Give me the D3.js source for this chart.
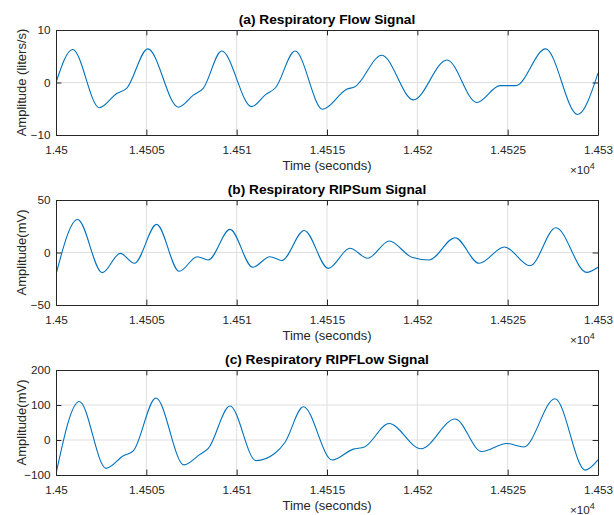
<!DOCTYPE html>
<html>
<head>
<meta charset="utf-8">
<script src="https://cdn.jsdelivr.net/npm/d3@7"></script>
<style>
  body { margin: 0; background: #fff; }
  svg { display: block; font-family: "Liberation Sans", Arial, Helvetica, sans-serif; }
</style>
</head>
<body>
<svg id="chart" width="614" height="515"></svg>
<script>
// Axe du temps (secondes), affiché en x10^4
const xTicks = [14500, 14505, 14510, 14515, 14520, 14525, 14530];
const xTickLabels = ["1.45", "1.4505", "1.451", "1.4515", "1.452", "1.4525", "1.453"];

// (a) Respiratory Flow
const flowTime = [14500.00, 14500.92, 14502.40, 14503.36, 14503.91, 14505.08, 14506.77, 14507.60, 14508.15,
                  14509.17, 14510.83, 14511.60, 14512.15, 14513.23, 14514.76, 14516.09, 14516.55, 14518.03,
                  14519.78, 14521.64, 14523.29, 14524.58, 14525.45, 14527.10, 14528.87, 14530.00];
const flowAmp  = [0.0, 6.3, -4.8, -2.1, -1.1, 6.4, -4.7, -2.4, -1.1,
                  6.0, -4.6, -2.3, -1.0, 6.0, -5.1, -1.3, -0.8, 5.2,
                  -3.3, 4.3, -3.8, -0.6, -0.6, 6.4, -6.1, 1.8];
const flowTicks = [-10, 0, 10];

// (b) Respiratory RIPSum
const sumTime = [14500.00, 14501.20, 14502.56, 14503.56, 14504.34, 14505.57, 14506.82, 14507.82, 14508.43,
                 14509.63, 14510.89, 14511.84, 14512.50, 14513.74, 14515.07, 14516.27, 14517.25, 14518.45,
                 14519.69, 14520.65, 14522.09, 14523.42, 14524.82, 14526.24, 14527.67, 14529.37, 14530.00];
const sumAmp  = [-20.8, 31.4, -19.2, -0.8, -10.3, 26.8, -17.9, -4.0, -7.1,
                 22.0, -14.1, -4.0, -7.6, 21.0, -15.1, 4.0, -5.5, 11.0,
                 -4.5, -7.1, 14.1, -10.3, 5.3, -12.6, 23.6, -18.9, -14.1];
const sumTicks = [-50, 0, 50];

// (c) Respiratory RIPFlow
const ripTime = [14500.00, 14501.29, 14502.77, 14503.73, 14504.28, 14505.53, 14507.08, 14507.97, 14508.43,
                 14509.63, 14511.07, 14512.12, 14512.67, 14513.69, 14515.29, 14516.46, 14517.07, 14518.43,
                 14520.20, 14522.09, 14523.56, 14524.95, 14525.89, 14527.62, 14529.30, 14530.00];
const ripAmp  = [-97, 110, -81, -45, -31, 120, -71, -41, -24,
                 97, -59, -38, -7, 95, -57, -26, -20, 47,
                 -25, 60, -33, -10, -20, 118, -86, -57];
const ripTicks = [-100, 0, 100, 200];

const panels = [
    { title: "(a) Respiratory Flow Signal", ylabel: "Amplitude (liters/s)", time: flowTime, amp: flowAmp, ticks: flowTicks, top: 30 },
    { title: "(b) Respiratory RIPSum Signal", ylabel: "Amplitude(mV)", time: sumTime, amp: sumAmp, ticks: sumTicks, top: 200 },
    { title: "(c) Respiratory RIPFLow Signal", ylabel: "Amplitude(mV)", time: ripTime, amp: ripAmp, ticks: ripTicks, top: 370 }
];

const left = 56, right = 598, plotH = 105, tick = 5.4;
const axisColor = "#262626", gridColor = "#dfdfdf", lineColor = "#0072bd";

const svg = d3.select("#chart");

const x = d3.scaleLinear().domain([14500, 14530]).range([left, right]);

panels.forEach((p, k) => {
    const y = d3.scaleLinear()
        .domain(d3.extent(p.ticks))
        .range([p.top + plotH, p.top]);

    const g = svg.append("g");

    // Grille
    g.append("g").selectAll("line")
        .data(xTicks.slice(1, -1))
        .enter().append("line")
        .attr("x1", d => x(d)).attr("x2", d => x(d))
        .attr("y1", p.top).attr("y2", p.top + plotH)
        .attr("stroke", gridColor);
    g.append("g").selectAll("line")
        .data(p.ticks.slice(1, -1))
        .enter().append("line")
        .attr("x1", left).attr("x2", right)
        .attr("y1", d => y(d)).attr("y2", d => y(d))
        .attr("stroke", gridColor);

    // Courbe
    const pts = p.time.map((t, i) => [t, p.amp[i]]);
    svg.append("clipPath").attr("id", "clip" + k)
        .append("rect").attr("x", left).attr("y", p.top).attr("width", right - left).attr("height", plotH);
    g.append("path")
        .datum(pts)
        .attr("clip-path", `url(#clip${k})`)
        .attr("fill", "none")
        .attr("stroke", lineColor)
        .attr("stroke-width", 1.1)
        .attr("d", d3.line().x(d => x(d[0])).y(d => y(d[1])).curve(d3.curveMonotoneX));

    // Axes (boîte complète, graduations vers l'intérieur)
    const bottomAxis = d3.axisBottom(x).tickValues(xTicks).tickFormat((d, i) => xTickLabels[i])
        .tickSizeInner(-tick).tickSizeOuter(0).tickPadding(10.8);
    const topAxis = d3.axisTop(x).tickValues(xTicks).tickFormat("").tickSizeInner(-tick).tickSizeOuter(0);
    const leftAxis = d3.axisLeft(y).tickValues(p.ticks).tickFormat(d3.format("d"))
        .tickSizeInner(-tick).tickSizeOuter(0).tickPadding(5.5);
    const rightAxis = d3.axisRight(y).tickValues(p.ticks).tickFormat("").tickSizeInner(-tick).tickSizeOuter(0);

    const axes = [
        g.append("g").attr("transform", `translate(0,${p.top + plotH})`).call(bottomAxis),
        g.append("g").attr("transform", `translate(0,${p.top})`).call(topAxis),
        g.append("g").attr("transform", `translate(${left},0)`).call(leftAxis),
        g.append("g").attr("transform", `translate(${right},0)`).call(rightAxis)
    ];
    axes.forEach(a => {
        a.select(".domain").attr("stroke", axisColor).attr("stroke-width", 1);
        a.selectAll(".tick line").attr("stroke", axisColor);
        a.selectAll("text").attr("fill", axisColor).style("font-size", "11.7px").style("font-family", null);
    });

    // Titres et libellés
    g.append("text")
        .attr("x", (left + right) / 2).attr("y", p.top - 6)
        .attr("text-anchor", "middle")
        .style("font-size", "13.7px").style("font-weight", "bold")
        .attr("fill", "#000")
        .text(p.title);

    g.append("text")
        .attr("x", (left + right) / 2).attr("y", p.top + plotH + 35)
        .attr("text-anchor", "middle")
        .style("font-size", "13px")
        .attr("fill", axisColor)
        .text("Time (seconds)");

    g.append("text")
        .attr("transform", `translate(26,${p.top + plotH / 2}) rotate(-90)`)
        .attr("text-anchor", "middle")
        .style("font-size", "13px")
        .attr("fill", axisColor)
        .text(p.ylabel);

    const mult = g.append("text")
        .attr("x", 570).attr("y", p.top + plotH + 38.5)
        .style("font-size", "11.7px")
        .attr("fill", axisColor);
    mult.append("tspan").text("\u00d710");
    mult.append("tspan").attr("dy", -5).style("font-size", "9px").text("4");
});
</script>
</body>
</html>
